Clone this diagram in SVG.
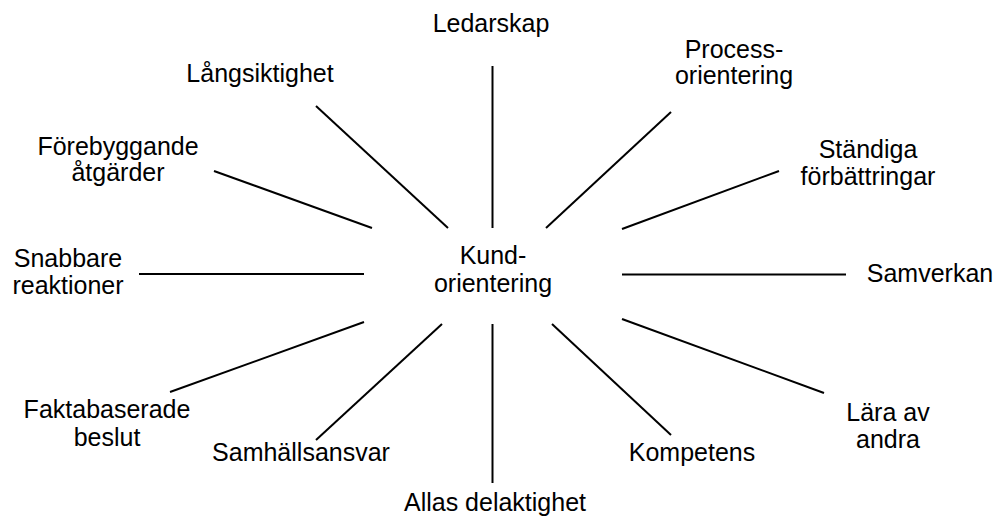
<svg xmlns="http://www.w3.org/2000/svg" width="997" height="517" viewBox="0 0 997 517">
<style>
text{font-family:"Liberation Sans",Arial,sans-serif;font-size:25px;fill:#000;text-anchor:middle}
.c line{stroke:#000;stroke-width:2;stroke-linecap:butt}
</style>
<rect width="997" height="517" fill="#fff"/>
<g class="c" id="connectors">
<line x1="492.5" y1="66" x2="492.5" y2="228"/>
<line x1="671" y1="112" x2="546" y2="228"/>
<line x1="779" y1="171" x2="622" y2="229"/>
<line x1="622" y1="274.5" x2="846" y2="274.5"/>
<line x1="622" y1="319" x2="824" y2="393"/>
<line x1="552" y1="324" x2="671" y2="435"/>
<line x1="492.5" y1="324" x2="492.5" y2="483"/>
<line x1="442" y1="324" x2="316" y2="440"/>
<line x1="364" y1="322" x2="170" y2="392"/>
<line x1="139" y1="274" x2="364" y2="274"/>
<line x1="214" y1="171" x2="372" y2="228"/>
<line x1="316" y1="106" x2="448" y2="228"/>
</g>
<g id="center"><text x="493" y="264">Kund-</text><text x="493" y="292">orientering</text></g>
<g id="ledarskap"><text x="491" y="32">Ledarskap</text></g>
<g id="process"><text x="734" y="58">Process-</text><text x="734" y="84">orientering</text></g>
<g id="standiga"><text x="868" y="158">Ständiga</text><text x="868" y="185">förbättringar</text></g>
<g id="samverkan"><text x="930" y="282">Samverkan</text></g>
<g id="lara"><text x="888" y="421">Lära av</text><text x="888" y="448">andra</text></g>
<g id="kompetens"><text x="692" y="461">Kompetens</text></g>
<g id="allas"><text x="495" y="511">Allas delaktighet</text></g>
<g id="samhallsansvar"><text x="301" y="461">Samhällsansvar</text></g>
<g id="faktabaserade"><text x="107" y="418">Faktabaserade</text><text x="107" y="446">beslut</text></g>
<g id="snabbare"><text x="68" y="267">Snabbare</text><text x="68" y="294">reaktioner</text></g>
<g id="forebyggande"><text x="118" y="155">Förebyggande</text><text x="118" y="181">åtgärder</text></g>
<g id="langsiktighet"><text x="260" y="82">Långsiktighet</text></g>
</svg>
